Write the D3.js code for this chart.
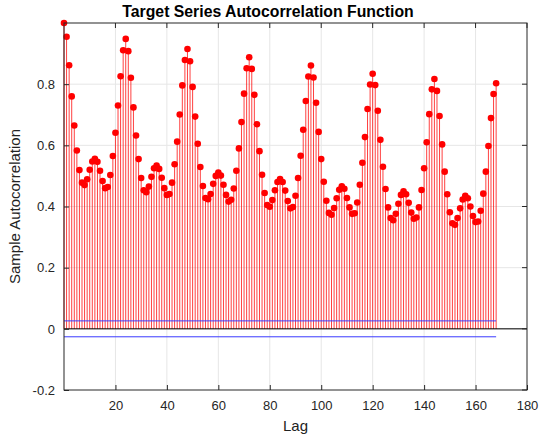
<!DOCTYPE html>
<html>
<head>
<meta charset="utf-8">
<script src="https://cdn.jsdelivr.net/npm/d3@7"></script>
<style>
  body { margin: 0; background: #fff; }
  svg text { font-family: "Liberation Sans", Arial, sans-serif; fill: #222; }
</style>
</head>
<body>
<svg id="chart" width="544" height="438"></svg>
<script>
// sample autocorrelation, lags 0..168
var acf = [
  1.000, 0.955, 0.862, 0.760, 0.665, 0.583, 0.519, 0.478, 0.470, 0.489,
  0.520, 0.547, 0.556, 0.546, 0.517, 0.483, 0.460, 0.464, 0.503, 0.565,
  0.641, 0.730, 0.826, 0.911, 0.948, 0.908, 0.821, 0.724, 0.632, 0.555,
  0.493, 0.453, 0.447, 0.465, 0.497, 0.525, 0.534, 0.523, 0.494, 0.460,
  0.438, 0.441, 0.478, 0.538, 0.612, 0.701, 0.796, 0.879, 0.915, 0.875,
  0.791, 0.694, 0.605, 0.529, 0.467, 0.428, 0.424, 0.441, 0.474, 0.500,
  0.511, 0.501, 0.471, 0.438, 0.416, 0.422, 0.459, 0.517, 0.590, 0.676,
  0.769, 0.852, 0.888, 0.850, 0.765, 0.669, 0.581, 0.504, 0.444, 0.405,
  0.399, 0.421, 0.453, 0.480, 0.490, 0.480, 0.452, 0.418, 0.394, 0.398,
  0.435, 0.493, 0.566, 0.651, 0.745, 0.825, 0.861, 0.822, 0.739, 0.644,
  0.555, 0.481, 0.419, 0.379, 0.373, 0.395, 0.427, 0.455, 0.466, 0.458,
  0.428, 0.397, 0.376, 0.378, 0.413, 0.471, 0.543, 0.627, 0.719, 0.799,
  0.834, 0.797, 0.713, 0.618, 0.530, 0.457, 0.397, 0.362, 0.355, 0.376,
  0.409, 0.438, 0.450, 0.440, 0.412, 0.380, 0.360, 0.364, 0.397, 0.454,
  0.525, 0.610, 0.702, 0.783, 0.817, 0.778, 0.696, 0.603, 0.514, 0.440,
  0.381, 0.345, 0.340, 0.362, 0.394, 0.423, 0.435, 0.427, 0.400, 0.369,
  0.349, 0.351, 0.386, 0.442, 0.514, 0.598, 0.689, 0.768, 0.803
];
var lags = d3.range(acf.length);
var bounds = [0.026, -0.026];
var xTicks = [20, 40, 60, 80, 100, 120, 140, 160, 180];
var yTicks = [-0.2, 0, 0.2, 0.4, 0.6, 0.8];

// plot box (note: "top" would clash with window.top)
var box = {left: 64, right: 527, top: 23, bottom: 390};
var svg = d3.select("#chart");

var x = d3.scaleLinear().domain([0, 180]).range([box.left, box.right]);
var y = d3.scaleLinear().domain([-0.2, 1.0]).range([box.bottom, box.top]);

// grid
svg.append("g").selectAll("line")
    .data(xTicks.slice(0, -1)).enter().append("line")
    .attr("x1", function(d){ return x(d); }).attr("x2", function(d){ return x(d); })
    .attr("y1", box.top).attr("y2", box.bottom)
    .attr("stroke", "#e6e6e6").attr("stroke-width", 1);
svg.append("g").selectAll("line")
    .data(yTicks.slice(1)).enter().append("line")
    .attr("x1", box.left).attr("x2", box.right)
    .attr("y1", function(d){ return y(d); }).attr("y2", function(d){ return y(d); })
    .attr("stroke", "#e6e6e6").attr("stroke-width", 1);

// stems
svg.append("g").selectAll("line")
    .data(lags).enter().append("line")
    .attr("x1", function(d){ return x(d); }).attr("x2", function(d){ return x(d); })
    .attr("y1", y(0)).attr("y2", function(d){ return y(acf[d]); })
    .attr("stroke", "#ff0000").attr("stroke-width", 0.75);

svg.append("g").selectAll("circle")
    .data(lags).enter().append("circle")
    .attr("cx", function(d){ return x(d); })
    .attr("cy", function(d){ return y(acf[d]); })
    .attr("r", 3.3)
    .attr("fill", "#ff0000");

// zero line + confidence bounds
svg.append("line")
    .attr("x1", box.left).attr("x2", box.right)
    .attr("y1", y(0)).attr("y2", y(0))
    .attr("stroke", "#000").attr("stroke-width", 1);
svg.append("g").selectAll("line")
    .data(bounds).enter().append("line")
    .attr("x1", x(0)).attr("x2", x(lags[lags.length - 1]))
    .attr("y1", function(d){ return y(d); }).attr("y2", function(d){ return y(d); })
    .attr("stroke", "#3a3aff").attr("stroke-width", 1);

// axes (ticks inside, box on)
var xAxis = d3.axisBottom(x).tickValues(xTicks).tickSize(-5).tickPadding(11);
var yAxis = d3.axisLeft(y).tickValues(yTicks).tickSize(-5).tickPadding(9)
    .tickFormat(function(d){ return d === 0 ? "0" : d.toFixed(1); });

var gx = svg.append("g").attr("transform", "translate(0," + box.bottom + ")").call(xAxis);
var gy = svg.append("g").attr("transform", "translate(" + box.left + ",0)").call(yAxis);
[gx, gy].forEach(function(g){
    g.select(".domain").remove();
    g.selectAll("line").attr("stroke", "#262626");
    g.selectAll("text").attr("font-size", 13).attr("font-family", null).style("fill", "#262626");
});

svg.append("g").selectAll("line")
    .data(xTicks).enter().append("line")
    .attr("x1", function(d){ return x(d); }).attr("x2", function(d){ return x(d); })
    .attr("y1", box.top).attr("y2", box.top + 5).attr("stroke", "#262626");
svg.append("g").selectAll("line")
    .data(yTicks).enter().append("line")
    .attr("x1", box.right).attr("x2", box.right - 5)
    .attr("y1", function(d){ return y(d); }).attr("y2", function(d){ return y(d); })
    .attr("stroke", "#262626");

svg.append("rect")
    .attr("x", box.left).attr("y", box.top)
    .attr("width", box.right - box.left).attr("height", box.bottom - box.top)
    .attr("fill", "none").attr("stroke", "#262626").attr("stroke-width", 1);

// labels
svg.append("text")
    .attr("x", 268).attr("y", 17)
    .attr("text-anchor", "middle")
    .attr("font-size", 15.8).attr("font-weight", "bold")
    .style("fill", "#000")
    .text("Target Series Autocorrelation Function");
svg.append("text")
    .attr("x", (box.left + box.right) / 2).attr("y", 431)
    .attr("text-anchor", "middle")
    .attr("font-size", 15)
    .text("Lag");
svg.append("text")
    .attr("transform", "translate(20," + ((box.top + box.bottom) / 2) + ") rotate(-90)")
    .attr("text-anchor", "middle")
    .attr("font-size", 15)
    .text("Sample Autocorrelation");
</script>
</body>
</html>
